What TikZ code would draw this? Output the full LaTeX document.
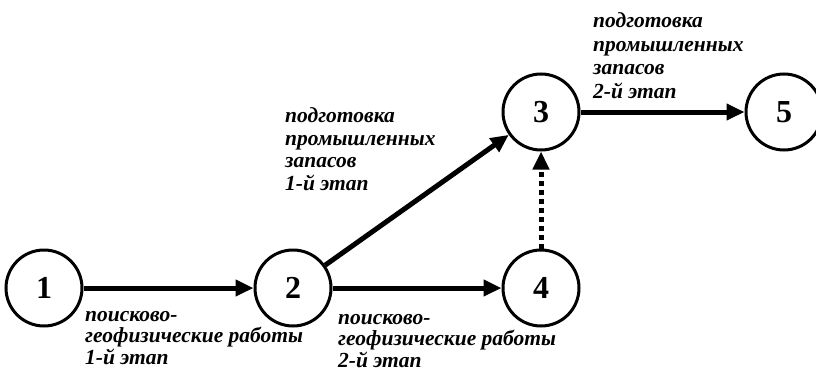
\documentclass[tikz,border=0pt]{standalone}
\usepackage{fontspec}
\setmainfont{Liberation Serif}
\usetikzlibrary{arrows.meta}
\begin{document}
\begin{tikzpicture}[
			x=1pt,y=-1pt,
			event/.style={circle,draw,line width=3pt,minimum size=76pt,inner sep=0pt,
				font=\fontsize{32}{32}\selectfont\bfseries},
			work/.style={line width=5pt,-{Triangle[length=18pt,width=16pt]}},
			dummy/.style={work,dash pattern=on 5pt off 4pt},
			note/.style={align=left,inner sep=0pt,anchor=base west,
				font=\fontsize{21.5}{#1}\selectfont\bfseries\itshape},
			note/.default=21.5
			]
			\useasboundingbox (0,0) rectangle (816,372);
			\node[event] (e1) at (44,288) {1};
			\node[event] (e2) at (293,288) {2};
			\node[event] (e3) at (541,112) {3};
			\node[event] (e4) at (541,288) {4};
			\node[event] (e5) at (784,112) {5};
			\draw[work] (e1) -- (e2);
			\draw[work] (e2) -- (e3);
			\draw[work] (e2) -- (e4);
			\draw[dummy] (e4) -- (e3);
			\draw[work] (e3) -- (e5);
			\node[note] (w12) at (85,364) {поисково-\\геофизические работы\\1-й этап};
			\node[note] (w24) at (338,367) {поисково-\\геофизические работы\\2-й этап};
			\node[note=22.5] (w23) at (285,190) {подготовка\\промышленных\\запасов\\1-й этап};
			\node[note=23.5] (w35) at (593,98) {подготовка\\промышленных\\запасов\\2-й этап};
		\end{tikzpicture}
\end{document}
